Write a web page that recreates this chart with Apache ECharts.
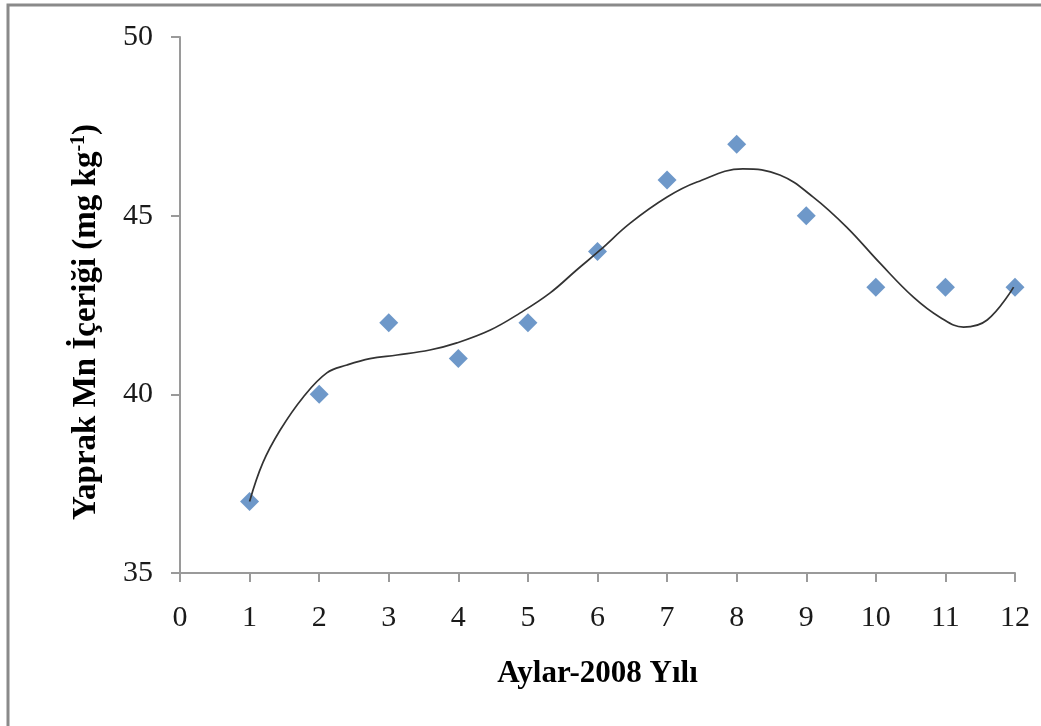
<!DOCTYPE html>
<html>
<head>
<meta charset="utf-8">
<script src="https://cdn.jsdelivr.net/npm/echarts@6/dist/echarts.min.js"></script>
<style>
html,body{margin:0;padding:0;background:#fff;}
#chart{width:1041px;height:726px;}
</style>
</head>
<body>
<div id="chart"></div>
<script>
// Observed data (month, Mn content)
const months = [1, 2, 3, 4, 5, 6, 7, 8, 9, 10, 11, 12];
const mnValues = [37, 40, 42, 41, 42, 44, 46, 47, 45, 43, 43, 43];

// Trendline (x, y)
const trendX = [1.0, 1.19, 1.44, 1.77, 2.11, 2.4, 2.73, 3.12, 3.59, 3.98, 4.46, 4.89, 5.32, 5.7, 6.04, 6.47, 7.0, 7.43, 8.09, 8.62, 9.1, 9.58, 10.06, 10.54, 10.92, 11.26, 11.6, 11.98];
const trendY = [37.0, 38.08, 39.0, 39.92, 40.6, 40.82, 41.0, 41.1, 41.24, 41.44, 41.8, 42.28, 42.84, 43.48, 44.04, 44.79, 45.52, 45.94, 46.31, 46.14, 45.52, 44.68, 43.67, 42.72, 42.16, 41.88, 42.08, 43.0];

const xTicks = [0, 1, 2, 3, 4, 5, 6, 7, 8, 9, 10, 11, 12];
const yTicks = [35, 40, 45, 50];

const xTitle = 'Aylar-2008 Yılı';

const chart = echarts.init(document.getElementById('chart'));
const axisColor = '#9a9a9a';
const serif = '"Liberation Serif", "Times New Roman", serif';

chart.setOption({
  backgroundColor: '#ffffff',
  animation: false,
  graphic: [{
    type: 'polyline',
    shape: { points: [[8, 760], [8, 5], [1060, 5]] },
    style: { stroke: '#8a8a8a', lineWidth: 3, fill: null },
    silent: true
  }],
  grid: { left: 180, right: 26, top: 37, bottom: 153, containLabel: false },
  xAxis: {
    type: 'value',
    min: xTicks[0],
    max: xTicks[xTicks.length - 1],
    interval: 1,
    splitLine: { show: false },
    axisLine: { show: true, onZero: false, lineStyle: { color: axisColor, width: 2 } },
    axisTick: { show: true, length: 9, lineStyle: { color: axisColor, width: 2 } },
    axisLabel: { color: '#1a1a1a', fontFamily: serif, fontSize: 30, margin: 30 },
    name: xTitle,
    nameLocation: 'middle',
    nameGap: 85,
    nameTextStyle: { color: '#000', fontFamily: serif, fontSize: 31, fontWeight: 'bold' }
  },
  yAxis: {
    type: 'value',
    min: yTicks[0],
    max: yTicks[yTicks.length - 1],
    interval: 5,
    splitLine: { show: false },
    axisLine: { show: true, onZero: false, lineStyle: { color: axisColor, width: 2 } },
    axisTick: { show: true, length: 9, lineStyle: { color: axisColor, width: 2 } },
    axisLabel: { color: '#1a1a1a', fontFamily: serif, fontSize: 30, margin: 27 },
    name: '{b|Yaprak Mn İçeriği (mg kg}{s|-1}{b|)}',
    nameLocation: 'middle',
    nameGap: 76,
    nameTextStyle: {
      padding: [0, 34, 0, 0],
      rich: {
        b: { color: '#000', fontFamily: serif, fontSize: 33, fontWeight: 'bold' },
        s: { color: '#000', fontFamily: serif, fontSize: 20, fontWeight: 'bold', verticalAlign: 'top', padding: [0, 0, 15, 0] }
      }
    }
  },
  series: [
    {
      type: 'line',
      data: trendX.map((x, i) => [x, trendY[i]]),
      smooth: 0.4,
      showSymbol: false,
      symbol: 'none',
      lineStyle: { color: '#333333', width: 1.7 },
      z: 3,
      silent: true
    },
    {
      type: 'scatter',
      data: months.map((m, i) => [m, mnValues[i]]),
      symbol: 'diamond',
      symbolSize: 19,
      itemStyle: { color: '#4a7ebb' },
      z: 2
    }
  ]
});
</script>
</body>
</html>
